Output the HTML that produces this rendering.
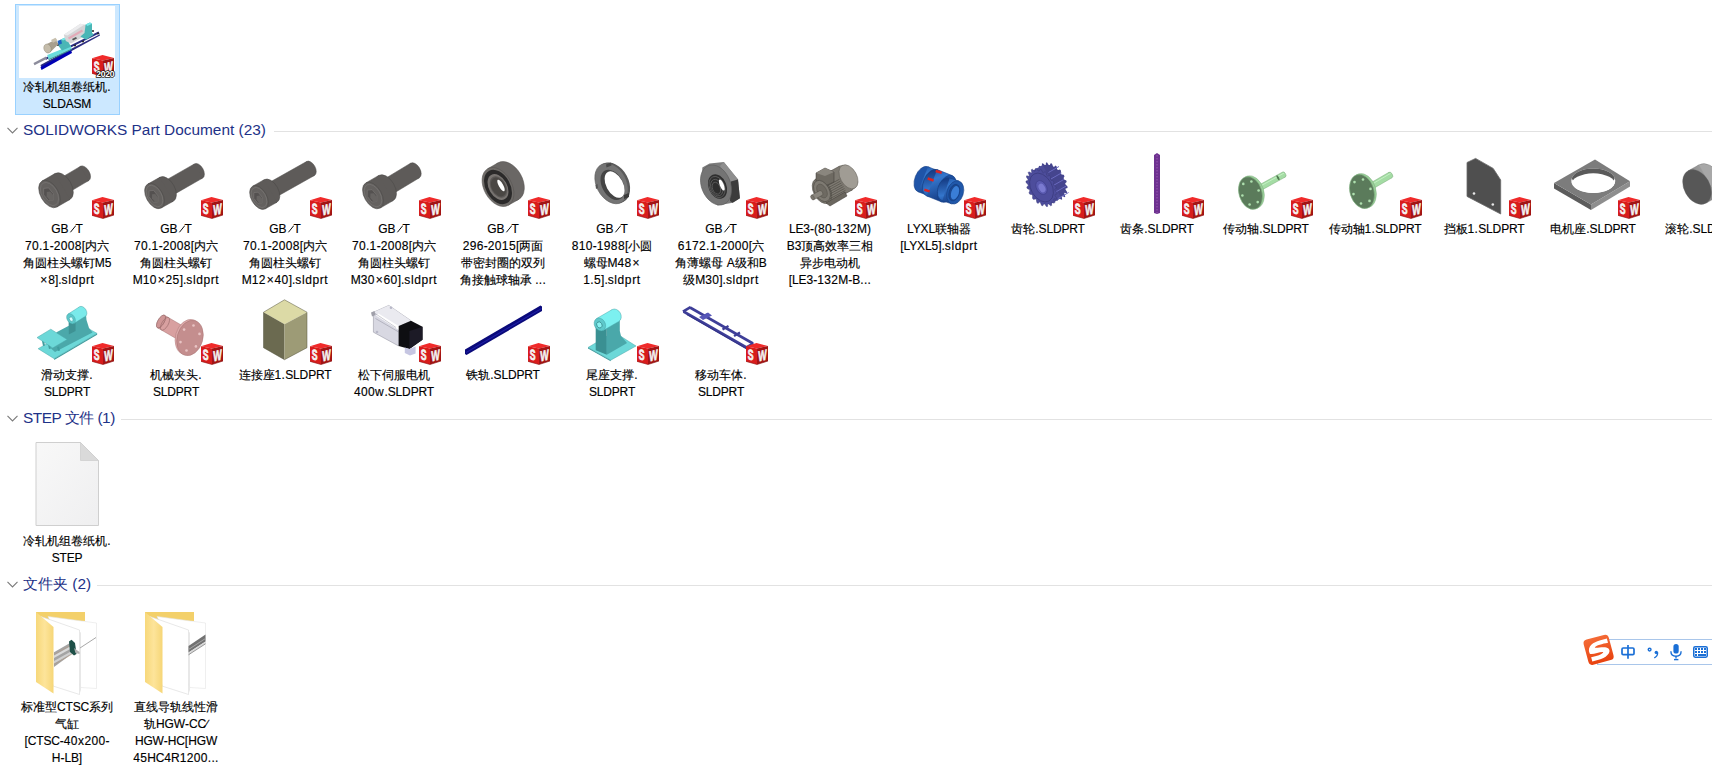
<!DOCTYPE html>
<html><head><meta charset="utf-8"><style>
html,body{margin:0;padding:0;background:#fff;width:1712px;height:783px;overflow:hidden;position:relative}
body{font-family:"Liberation Sans",sans-serif;}
.tx{position:absolute;width:120px;text-align:center;font-size:12px;line-height:17px;color:#000;white-space:nowrap;-webkit-text-stroke:0.15px #000}
.ln{height:17px}
.slsvg{vertical-align:baseline;display:inline-block}
.lc{letter-spacing:0.6px}
.uc{letter-spacing:-0.15px}
.dg{letter-spacing:0.35px}
.x{margin:0 0.9px}
.hd{position:absolute;left:23px;font-size:15.4px;line-height:17px;color:#1e3287;white-space:nowrap}
.hl{position:absolute;right:0;height:1px;background:#e2e2e2}
.chev{position:absolute;left:7px}
.sel{position:absolute;left:15px;top:4px;width:103px;height:109px;background:#cce8ff;border:1px solid #99d1ff}
.thumbbg{position:absolute;left:19px;top:6px;width:96px;height:72px;background:#fff}
.ov{position:absolute;left:0;top:0}
</style></head><body>
<div class="sel"></div><div class="thumbbg"></div><div class="tx" style="left:7px;top:79px"><div class="ln">冷轧机组卷纸机.</div><div class="ln"><span class=uc>SLDASM</span></div></div><div class="hd" style="top:121px;letter-spacing:0px">SOLIDWORKS Part Document (23)</div><div class="hl" style="top:131px;left:274px"></div><svg class="chev" style="top:127px" width="12" height="8" viewBox="0 0 12 8"><path d="M0.5 0.8 L5.5 6 L10.5 0.8" fill="none" stroke="#7a7a7a" stroke-width="1.1"/></svg><div class="tx" style="left:7px;top:221px"><div class="ln">GB<svg class=slsvg width="7" height="9" viewBox="0 0 7 9"><line x1="1.4" y1="8.3" x2="6.9" y2="1.5" stroke="#000" stroke-width="0.95"/></svg>T</div><div class="ln"><span class=dg>70.1</span>-<span class=dg>2008</span>[内六</div><div class="ln">角圆柱头螺钉M5</div><div class="ln"><span class=x>×</span>8].<span class=lc>sldprt</span></div></div><div class="tx" style="left:116px;top:221px"><div class="ln">GB<svg class=slsvg width="7" height="9" viewBox="0 0 7 9"><line x1="1.4" y1="8.3" x2="6.9" y2="1.5" stroke="#000" stroke-width="0.95"/></svg>T</div><div class="ln"><span class=dg>70.1</span>-<span class=dg>2008</span>[内六</div><div class="ln">角圆柱头螺钉</div><div class="ln">M<span class=dg>10</span><span class=x>×</span><span class=dg>25</span>].<span class=lc>sldprt</span></div></div><div class="tx" style="left:225px;top:221px"><div class="ln">GB<svg class=slsvg width="7" height="9" viewBox="0 0 7 9"><line x1="1.4" y1="8.3" x2="6.9" y2="1.5" stroke="#000" stroke-width="0.95"/></svg>T</div><div class="ln"><span class=dg>70.1</span>-<span class=dg>2008</span>[内六</div><div class="ln">角圆柱头螺钉</div><div class="ln">M<span class=dg>12</span><span class=x>×</span><span class=dg>40</span>].<span class=lc>sldprt</span></div></div><div class="tx" style="left:334px;top:221px"><div class="ln">GB<svg class=slsvg width="7" height="9" viewBox="0 0 7 9"><line x1="1.4" y1="8.3" x2="6.9" y2="1.5" stroke="#000" stroke-width="0.95"/></svg>T</div><div class="ln"><span class=dg>70.1</span>-<span class=dg>2008</span>[内六</div><div class="ln">角圆柱头螺钉</div><div class="ln">M<span class=dg>30</span><span class=x>×</span><span class=dg>60</span>].<span class=lc>sldprt</span></div></div><div class="tx" style="left:443px;top:221px"><div class="ln">GB<svg class=slsvg width="7" height="9" viewBox="0 0 7 9"><line x1="1.4" y1="8.3" x2="6.9" y2="1.5" stroke="#000" stroke-width="0.95"/></svg>T</div><div class="ln"><span class=dg>296</span>-<span class=dg>2015</span>[两面</div><div class="ln">带密封圈的双列</div><div class="ln">角接触球轴承 <span class=dg>...</span></div></div><div class="tx" style="left:552px;top:221px"><div class="ln">GB<svg class=slsvg width="7" height="9" viewBox="0 0 7 9"><line x1="1.4" y1="8.3" x2="6.9" y2="1.5" stroke="#000" stroke-width="0.95"/></svg>T</div><div class="ln"><span class=dg>810</span>-<span class=dg>1988</span>[小圆</div><div class="ln">螺母M<span class=dg>48</span><span class=x>×</span></div><div class="ln"><span class=dg>1.5</span>].<span class=lc>sldprt</span></div></div><div class="tx" style="left:661px;top:221px"><div class="ln">GB<svg class=slsvg width="7" height="9" viewBox="0 0 7 9"><line x1="1.4" y1="8.3" x2="6.9" y2="1.5" stroke="#000" stroke-width="0.95"/></svg>T</div><div class="ln"><span class=dg>6172.1</span>-<span class=dg>2000</span>[六</div><div class="ln">角薄螺母 A级和B</div><div class="ln">级M<span class=dg>30</span>].<span class=lc>sldprt</span></div></div><div class="tx" style="left:770px;top:221px"><div class="ln"><span class=uc>LE</span>3-(<span class=dg>80</span>-<span class=dg>132</span>M)</div><div class="ln">B3顶高效率三相</div><div class="ln">异步电动机</div><div class="ln">[<span class=uc>LE</span>3-<span class=dg>132</span>M-B<span class=dg>...</span></div></div><div class="tx" style="left:879px;top:221px"><div class="ln"><span class=uc>LYXL</span>联轴器</div><div class="ln">[<span class=uc>LYXL</span>5].<span class=lc>sldprt</span></div></div><div class="tx" style="left:988px;top:221px"><div class="ln">齿轮.<span class=uc>SLDPRT</span></div></div><div class="tx" style="left:1097px;top:221px"><div class="ln">齿条.<span class=uc>SLDPRT</span></div></div><div class="tx" style="left:1206px;top:221px"><div class="ln">传动轴.<span class=uc>SLDPRT</span></div></div><div class="tx" style="left:1315px;top:221px"><div class="ln">传动轴<span class=dg>1.</span><span class=uc>SLDPRT</span></div></div><div class="tx" style="left:1424px;top:221px"><div class="ln">挡板<span class=dg>1.</span><span class=uc>SLDPRT</span></div></div><div class="tx" style="left:1533px;top:221px"><div class="ln">电机座.<span class=uc>SLDPRT</span></div></div><div class="tx" style="left:1642px;top:221px"><div class="ln">滚轮.<span class=uc>SLDPRT</span></div></div><div class="tx" style="left:7px;top:367px"><div class="ln">滑动支撑.</div><div class="ln"><span class=uc>SLDPRT</span></div></div><div class="tx" style="left:116px;top:367px"><div class="ln">机械夹头.</div><div class="ln"><span class=uc>SLDPRT</span></div></div><div class="tx" style="left:225px;top:367px"><div class="ln">连接座<span class=dg>1.</span><span class=uc>SLDPRT</span></div></div><div class="tx" style="left:334px;top:367px"><div class="ln">松下伺服电机</div><div class="ln"><span class=dg>400</span><span class=lc>w</span>.<span class=uc>SLDPRT</span></div></div><div class="tx" style="left:443px;top:367px"><div class="ln">铁轨.<span class=uc>SLDPRT</span></div></div><div class="tx" style="left:552px;top:367px"><div class="ln">尾座支撑.</div><div class="ln"><span class=uc>SLDPRT</span></div></div><div class="tx" style="left:661px;top:367px"><div class="ln">移动车体.</div><div class="ln"><span class=uc>SLDPRT</span></div></div><div class="hd" style="top:409px;letter-spacing:-0.5px">STEP 文件 (1)</div><div class="hl" style="top:419px;left:121px"></div><svg class="chev" style="top:415px" width="12" height="8" viewBox="0 0 12 8"><path d="M0.5 0.8 L5.5 6 L10.5 0.8" fill="none" stroke="#7a7a7a" stroke-width="1.1"/></svg><div class="tx" style="left:7px;top:533px"><div class="ln">冷轧机组卷纸机.</div><div class="ln"><span class=uc>STEP</span></div></div><div class="hd" style="top:575px;letter-spacing:0px">文件夹 (2)</div><div class="hl" style="top:585px;left:97px"></div><svg class="chev" style="top:581px" width="12" height="8" viewBox="0 0 12 8"><path d="M0.5 0.8 L5.5 6 L10.5 0.8" fill="none" stroke="#7a7a7a" stroke-width="1.1"/></svg><div class="tx" style="left:7px;top:699px"><div class="ln">标准型<span class=uc>CTSC</span>系列</div><div class="ln">气缸</div><div class="ln">[<span class=uc>CTSC</span>-<span class=dg>40</span><span class=lc>x</span><span class=dg>200</span>-</div><div class="ln">H-<span class=uc>LB</span>]</div></div><div class="tx" style="left:116px;top:699px"><div class="ln">直线导轨线性滑</div><div class="ln">轨<span class=uc>HGW</span>-<span class=uc>CC</span>∕</div><div class="ln"><span class=uc>HGW</span>-<span class=uc>HC</span>[<span class=uc>HGW</span></div><div class="ln"><span class=dg>45</span><span class=uc>HC</span>4R<span class=dg>1200...</span></div></div>
<svg class="ov" width="1712" height="783" viewBox="0 0 1712 783"><defs>
<g id="sw">
 <polygon points="0,3.2 10.5,0 22,2.9 11,5.4" fill="#f02a2a"/>
 <polygon points="0,3.2 11,5.4 11,21.5 0,18.4" fill="#d81c1c"/>
 <polygon points="11,5.4 22,2.9 22,18 11,21.5" fill="#a31414"/>
 <polyline points="0,18.4 11,21.5 22,18" fill="none" stroke="#8a1010" stroke-width="0.6"/>
 <g transform="translate(4.7,16.9) skewY(11) scale(0.6,1)"><text x="0" y="0" font-family="Liberation Sans" font-weight="bold" font-size="14.5" fill="#f4f4f4" stroke="#f4f4f4" stroke-width="0.7" text-anchor="middle">S</text></g>
 <g transform="translate(16.5,17.6) skewY(-13) scale(0.62,1)"><text x="0" y="0" font-family="Liberation Sans" font-weight="bold" font-size="14.5" fill="#f4f4f4" stroke="#f4f4f4" stroke-width="0.6" text-anchor="middle">W</text></g>
</g>
</defs>
<polygon points="40.5,65 99,33 100,35.5 41.5,67.5" fill="#2c2c80" /><polygon points="45,58 98.5,31.5 99.5,33.5 46,60" fill="#2c2c80" /><polygon points="46,60 99,33.5 99.5,34.6 46.5,61.3" fill="#ffffff" /><polygon points="33.5,63 46,56.5 47,58.8 34.5,65.3" fill="#8c8c9c" /><polygon points="40.5,67 71,50 72,53 41.5,70" fill="#0000b4" /><circle cx="58" cy="45" r="1" fill="#222"/><circle cx="68" cy="46" r="1" fill="#222"/><circle cx="75" cy="45.5" r="1" fill="#222"/><circle cx="83" cy="41.5" r="1" fill="#222"/><circle cx="93" cy="31" r="1" fill="#222"/><circle cx="98" cy="33.5" r="1" fill="#222"/><polygon points="47.2,55.1 70.9,45.5 71.5,48.7 48.5,59" fill="#6adcdc" /><polygon points="48.5,59 71.5,48.7 71.5,50 48.5,60.3" fill="#3a9c9c" /><polygon points="61.3,39.2 65.8,37.2 67,38.5 70.9,46.8 62,50.5 58.5,46" fill="#4ab6b6" /><polygon points="61.3,39.2 65.8,37.2 67.5,38.6 63,40.6" fill="#78e8e8" /><polygon points="47,44 55.5,39.5 58.5,44 50,52.5" fill="#a89f8e" /><polygon points="51,40 55.5,37.8 57.5,40.5 53,42.7" fill="#c8c0ae" /><ellipse cx="47.5" cy="48.5" rx="3.6" ry="4.6" transform="rotate(-20 47.5 48.5)" fill="#c4bcaa" stroke="#8a8272" stroke-width="0.4" /><polygon points="57.5,41 61,39.5 62,43.5 58.5,45" fill="#1f62c4" /><polygon points="63.8,34.7 80.4,23.8 86.2,25.1 84.3,36.6 70.9,43.6 65.8,41" fill="#d4d4d6" /><polygon points="63.8,34.7 80.4,23.8 84.5,24.6 67.5,35.5" fill="#ececee" /><polygon points="68,37.5 82,29.5 83,31.5 69,39.5" fill="#e2aab8" /><polygon points="72,39 76,37 77,38.5 73,40.5" fill="#555" /><polygon points="85.6,24.5 90,22.5 92,23.8 92,32.8 93.9,34.7 86.2,39.8 80.4,36.6 84.5,33" fill="#4ab6b6" /><polygon points="85.6,24.5 90,22.5 92,23.8 87.5,26" fill="#78e8e8" />
<use href="#sw" x="92" y="55"/>
<text x="105.3" y="77" text-anchor="middle" font-family="Liberation Sans" font-weight="bold" font-size="8.6" fill="#ffffff" stroke="#111111" stroke-width="1.5" paint-order="stroke" letter-spacing="-0.2">2020</text>
<ellipse cx="84.5" cy="173.5" rx="5" ry="8.3" transform="rotate(-30.6 84.5 173.5)" fill="#5e5b59" stroke="#4b4947" stroke-width="0.5" /><polygon points="66.7,193.6 88.7,180.6 80.3,166.4 58.3,179.4" fill="#5e5b59" /><line x1="66.7" y1="193.6" x2="88.7" y2="180.6" stroke="#4b4947" stroke-width="0.5" /><line x1="58.3" y1="179.4" x2="80.3" y2="166.4" stroke="#4b4947" stroke-width="0.5" /><ellipse cx="62.5" cy="186.5" rx="5" ry="8.3" transform="rotate(-30.6 62.5 186.5)" fill="#5e5b59" stroke="#4b4947" stroke-width="0.5" /><ellipse cx="62.5" cy="186.5" rx="9" ry="15" transform="rotate(-30 62.5 186.5)" fill="#5e5b59" stroke="#4b4947" stroke-width="0.5" /><polygon points="57,207 70,199.5 55,173.5 42,181" fill="#5e5b59" /><line x1="57" y1="207" x2="70" y2="199.5" stroke="#4b4947" stroke-width="0.5" /><line x1="42" y1="181" x2="55" y2="173.5" stroke="#4b4947" stroke-width="0.5" /><ellipse cx="49.5" cy="194" rx="9" ry="15" transform="rotate(-30 49.5 194)" fill="#64615f" stroke="#4b4947" stroke-width="0.5" /><ellipse cx="49.5" cy="194" rx="7.6" ry="12.6" transform="rotate(-30 49.5 194)" fill="none" stroke="#777472" stroke-width="0.7" /><polygon points="53.4,193.8 53.3,200.2 48.4,200.7 43.6,194.8 43.7,188.4 48.6,187.9" fill="#545150" stroke="#7c7977" stroke-width="0.6" stroke-linejoin="round" /><polygon points="53.5,195.6 53.4,200.1 50,200.5 46.7,196.4 46.8,191.9 50.2,191.5" fill="#676462" /><ellipse cx="198.5" cy="171" rx="4.9" ry="8.2" transform="rotate(-29.8 198.5 171)" fill="#5e5b59" stroke="#4b4947" stroke-width="0.5" /><polygon points="170.6,196.4 202.6,178.1 194.4,163.9 162.4,182.2" fill="#5e5b59" /><line x1="170.6" y1="196.4" x2="202.6" y2="178.1" stroke="#4b4947" stroke-width="0.5" /><line x1="162.4" y1="182.2" x2="194.4" y2="163.9" stroke="#4b4947" stroke-width="0.5" /><ellipse cx="166.5" cy="189.3" rx="4.9" ry="8.2" transform="rotate(-29.8 166.5 189.3)" fill="#5e5b59" stroke="#4b4947" stroke-width="0.5" /><ellipse cx="166.5" cy="189.3" rx="8.3" ry="13.8" transform="rotate(-29.2 166.5 189.3)" fill="#5e5b59" stroke="#4b4947" stroke-width="0.5" /><polygon points="161.2,208 173.2,201.3 159.8,177.3 147.8,184" fill="#5e5b59" /><line x1="161.2" y1="208" x2="173.2" y2="201.3" stroke="#4b4947" stroke-width="0.5" /><line x1="147.8" y1="184" x2="159.8" y2="177.3" stroke="#4b4947" stroke-width="0.5" /><ellipse cx="154.5" cy="196" rx="8.3" ry="13.8" transform="rotate(-29.2 154.5 196)" fill="#64615f" stroke="#4b4947" stroke-width="0.5" /><ellipse cx="154.5" cy="196" rx="7" ry="11.6" transform="rotate(-29.2 154.5 196)" fill="none" stroke="#777472" stroke-width="0.7" /><polygon points="158,195.9 157.9,201.8 153.3,202.2 149,196.7 149.1,190.8 153.7,190.4" fill="#545150" stroke="#7c7977" stroke-width="0.6" stroke-linejoin="round" /><polygon points="158.2,197.7 158.1,201.8 155,202.1 152,198.3 152.1,194.2 155.2,193.9" fill="#676462" /><ellipse cx="310.5" cy="168.5" rx="4.8" ry="8" transform="rotate(-29.4 310.5 168.5)" fill="#5e5b59" stroke="#4b4947" stroke-width="0.5" /><polygon points="274.4,198 314.4,175.5 306.6,161.5 266.6,184" fill="#5e5b59" /><line x1="274.4" y1="198" x2="314.4" y2="175.5" stroke="#4b4947" stroke-width="0.5" /><line x1="266.6" y1="184" x2="306.6" y2="161.5" stroke="#4b4947" stroke-width="0.5" /><ellipse cx="270.5" cy="191" rx="4.8" ry="8" transform="rotate(-29.4 270.5 191)" fill="#5e5b59" stroke="#4b4947" stroke-width="0.5" /><ellipse cx="270.5" cy="191" rx="7.8" ry="13" transform="rotate(-29.5 270.5 191)" fill="#5e5b59" stroke="#4b4947" stroke-width="0.5" /><polygon points="265.4,208.8 276.9,202.3 264.1,179.7 252.6,186.2" fill="#5e5b59" /><line x1="265.4" y1="208.8" x2="276.9" y2="202.3" stroke="#4b4947" stroke-width="0.5" /><line x1="252.6" y1="186.2" x2="264.1" y2="179.7" stroke="#4b4947" stroke-width="0.5" /><ellipse cx="259" cy="197.5" rx="7.8" ry="13" transform="rotate(-29.5 259 197.5)" fill="#64615f" stroke="#4b4947" stroke-width="0.5" /><ellipse cx="259" cy="197.5" rx="6.6" ry="10.9" transform="rotate(-29.5 259 197.5)" fill="none" stroke="#777472" stroke-width="0.7" /><polygon points="262.3,197.4 262.1,203 257.9,203.4 253.7,198.2 253.9,192.6 258.1,192.2" fill="#545150" stroke="#7c7977" stroke-width="0.6" stroke-linejoin="round" /><polygon points="262.6,199.2 262.5,203.1 259.5,203.4 256.6,199.8 256.7,195.9 259.7,195.6" fill="#676462" /><ellipse cx="415" cy="170.5" rx="5.1" ry="8.5" transform="rotate(-31.1 415 170.5)" fill="#5e5b59" stroke="#4b4947" stroke-width="0.5" /><polygon points="390.4,195.3 419.4,177.8 410.6,163.2 381.6,180.7" fill="#5e5b59" /><line x1="390.4" y1="195.3" x2="419.4" y2="177.8" stroke="#4b4947" stroke-width="0.5" /><line x1="381.6" y1="180.7" x2="410.6" y2="163.2" stroke="#4b4947" stroke-width="0.5" /><ellipse cx="386" cy="188" rx="5.1" ry="8.5" transform="rotate(-31.1 386 188)" fill="#5e5b59" stroke="#4b4947" stroke-width="0.5" /><ellipse cx="386" cy="188" rx="8.7" ry="14.5" transform="rotate(-30 386 188)" fill="#5e5b59" stroke="#4b4947" stroke-width="0.5" /><polygon points="380.2,208.1 393.2,200.6 378.8,175.4 365.8,182.9" fill="#5e5b59" /><line x1="380.2" y1="208.1" x2="393.2" y2="200.6" stroke="#4b4947" stroke-width="0.5" /><line x1="365.8" y1="182.9" x2="378.8" y2="175.4" stroke="#4b4947" stroke-width="0.5" /><ellipse cx="373" cy="195.5" rx="8.7" ry="14.5" transform="rotate(-30 373 195.5)" fill="#64615f" stroke="#4b4947" stroke-width="0.5" /><ellipse cx="373" cy="195.5" rx="7.3" ry="12.2" transform="rotate(-30 373 195.5)" fill="none" stroke="#777472" stroke-width="0.7" /><polygon points="376.8,195.3 376.7,201.5 371.9,202 367.2,196.3 367.3,190.1 372.1,189.6" fill="#545150" stroke="#7c7977" stroke-width="0.6" stroke-linejoin="round" /><polygon points="376.9,197.2 376.8,201.5 373.5,201.8 370.3,197.8 370.4,193.5 373.7,193.2" fill="#676462" /><ellipse cx="508.4" cy="181.1" rx="13.9" ry="21" transform="rotate(-29.4 508.4 181.1)" fill="#6a6765" stroke="#55524f" stroke-width="0.5" /><polygon points="508.3,205.3 518.7,199.4 498.1,162.8 487.7,168.7" fill="#6a6765" /><line x1="508.3" y1="205.3" x2="518.7" y2="199.4" stroke="#55524f" stroke-width="0.5" /><line x1="487.7" y1="168.7" x2="498.1" y2="162.8" stroke="#55524f" stroke-width="0.5" /><ellipse cx="498" cy="187" rx="13.9" ry="21" transform="rotate(-29.4 498 187)" fill="#6e6b68" stroke="#55524f" stroke-width="0.5" /><ellipse cx="498" cy="187" rx="12.2" ry="18.5" transform="rotate(-29.4 498 187)" fill="#2b2a2a" /><ellipse cx="498" cy="187" rx="9.1" ry="13.9" transform="rotate(-29.4 498 187)" fill="#777370" /><ellipse cx="498.5" cy="187" rx="7.6" ry="11.6" transform="rotate(-29.4 498.5 187)" fill="#5a5755" /><ellipse cx="498.5" cy="187" rx="6.7" ry="10.1" transform="rotate(-29.4 498.5 187)" fill="#4a4744" /><ellipse cx="501" cy="185.5" rx="2.2" ry="6.5" transform="rotate(-29.4 501 185.5)" fill="#ffffff" /><ellipse cx="613.5" cy="182.8" rx="15" ry="21.5" transform="rotate(-28 613.5 182.8)" fill="#5a5a5a" /><ellipse cx="611.5" cy="183.5" rx="15" ry="21.5" transform="rotate(-28 611.5 183.5)" fill="#747474" stroke="#5a5a5a" stroke-width="0.6" /><ellipse cx="612.5" cy="184.8" rx="10.5" ry="16.2" transform="rotate(-28 612.5 184.8)" fill="#444444" /><ellipse cx="614.6" cy="184.6" rx="8.4" ry="14.3" transform="rotate(-28 614.6 184.6)" fill="#ffffff" /><polygon points="606,164.5 611,162.5 611.5,165.5 606.5,167.5" fill="#4a4a4a" /><polygon points="624,195 629,193 629,197 624,199" fill="#3a3a3a" /><polygon points="595.5,185 597.5,184 598,188 596,189" fill="#555" /><polygon points="702.3,167.4 709.5,163.4 723.8,162 738,179.5 739.9,198.3 732.7,202.7 717.5,205.4 701.9,185.7" fill="#7c7c7c" /><polygon points="723.8,162 738,179.5 731,182 720,166" fill="#8e8e8e" /><polygon points="731,181.5 738,179.5 739.9,198.3 732.7,202.7 730,201" fill="#3c3c3c" /><ellipse cx="716" cy="185" rx="14.5" ry="20.8" transform="rotate(-22 716 185)" fill="#747474" stroke="#5e5e5e" stroke-width="0.6" /><ellipse cx="717.5" cy="186.5" rx="9" ry="12.8" transform="rotate(-22 717.5 186.5)" fill="#2e2e2e" /><ellipse cx="717" cy="187" rx="7.5" ry="11" transform="rotate(-22 717 187)" fill="none" stroke="#5e5e5e" stroke-width="0.8" /><ellipse cx="716.7" cy="187.6" rx="5.7" ry="8.6" transform="rotate(-22 716.7 187.6)" fill="none" stroke="#5e5e5e" stroke-width="0.8" /><ellipse cx="716.4" cy="188.2" rx="3.9" ry="6.2" transform="rotate(-22 716.4 188.2)" fill="none" stroke="#5e5e5e" stroke-width="0.8" /><ellipse cx="721.8" cy="185" rx="2" ry="6" transform="rotate(-22 721.8 185)" fill="#ffffff" /><ellipse cx="846" cy="178" rx="8.4" ry="13.5" transform="rotate(-28.4 846 178)" fill="#9a968e" stroke="#4a4740" stroke-width="0.5" /><polygon points="828.4,202.9 852.4,189.9 839.6,166.1 815.6,179.1" fill="#7e7a72" /><line x1="828.4" y1="202.9" x2="852.4" y2="189.9" stroke="#4a4740" stroke-width="0.5" /><line x1="815.6" y1="179.1" x2="839.6" y2="166.1" stroke="#4a4740" stroke-width="0.5" /><ellipse cx="822" cy="191" rx="8.4" ry="13.5" transform="rotate(-28.4 822 191)" fill="#7a766e" stroke="#4a4740" stroke-width="0.5" /><ellipse cx="848.5" cy="176.8" rx="8.2" ry="13" transform="rotate(-29 848.5 176.8)" fill="#a09c94" stroke="#5e5b54" stroke-width="0.5" /><line x1="823.7" y1="187.8" x2="839.5" y2="179.2" stroke="#4a4740" stroke-width="0.6" /><line x1="824.7" y1="189.7" x2="840.5" y2="181.1" stroke="#4a4740" stroke-width="0.6" /><line x1="825.7" y1="191.5" x2="841.5" y2="182.9" stroke="#4a4740" stroke-width="0.6" /><line x1="826.7" y1="193.4" x2="842.5" y2="184.8" stroke="#4a4740" stroke-width="0.6" /><line x1="827.7" y1="195.2" x2="843.5" y2="186.6" stroke="#4a4740" stroke-width="0.6" /><line x1="828.7" y1="197" x2="844.5" y2="188.5" stroke="#4a4740" stroke-width="0.6" /><line x1="829.7" y1="198.9" x2="845.5" y2="190.3" stroke="#4a4740" stroke-width="0.6" /><polygon points="845,192 847,196 830,206 826,203" fill="#6a665e" stroke="#3e3b36" stroke-width="0.5" stroke-linejoin="round" /><polygon points="816,173 825,168 834,172 834,182 825,186 816,181" fill="#6e6a62" stroke="#3e3b36" stroke-width="0.5" stroke-linejoin="round" /><polygon points="816,173 825,168 834,172 825,176" fill="#8a867e" /><ellipse cx="822" cy="191" rx="7.3" ry="11.5" transform="rotate(-29 822 191)" fill="#7e7a72" stroke="#4a4740" stroke-width="0.6" /><ellipse cx="822" cy="191" rx="4.5" ry="7.5" transform="rotate(-29 822 191)" fill="#6e6a62" stroke="#55524b" stroke-width="0.5" /><ellipse cx="821" cy="193" rx="1.6" ry="2.6" transform="rotate(-27.9 821 193)" fill="#8a867e" stroke="#4a4740" stroke-width="0.4" /><polygon points="813.7,199.8 822.2,195.3 819.8,190.7 811.3,195.2" fill="#8a867e" /><line x1="813.7" y1="199.8" x2="822.2" y2="195.3" stroke="#4a4740" stroke-width="0.4" /><line x1="811.3" y1="195.2" x2="819.8" y2="190.7" stroke="#4a4740" stroke-width="0.4" /><ellipse cx="812.5" cy="197.5" rx="1.6" ry="2.6" transform="rotate(-27.9 812.5 197.5)" fill="#7a766e" stroke="#4a4740" stroke-width="0.4" /><linearGradient id="cg" x1="0" y1="0" x2="0.3" y2="1"><stop offset="0" stop-color="#1a4c9c"/><stop offset="0.35" stop-color="#3476cc"/><stop offset="1" stop-color="#173f88"/></linearGradient><ellipse cx="923" cy="179.2" rx="8.1" ry="13.5" transform="rotate(-158.2 923 179.2)" fill="#1f54a8" stroke="#143c80" stroke-width="0.5" /><polygon points="937,170.3 928,166.7 918,191.7 927,195.3" fill="url(#cg)" /><line x1="937" y1="170.3" x2="928" y2="166.7" stroke="#143c80" stroke-width="0.5" /><line x1="927" y1="195.3" x2="918" y2="191.7" stroke="#143c80" stroke-width="0.5" /><ellipse cx="932" cy="182.8" rx="8.1" ry="13.5" transform="rotate(-158.2 932 182.8)" fill="#1f54a8" stroke="#143c80" stroke-width="0.5" /><ellipse cx="932" cy="182.8" rx="8.5" ry="14.2" transform="rotate(-158.2 932 182.8)" fill="url(#cg)" stroke="#143c80" stroke-width="0.5" /><polygon points="952.3,175.6 937.3,169.6 926.7,196 941.7,202" fill="url(#cg)" /><line x1="952.3" y1="175.6" x2="937.3" y2="169.6" stroke="#143c80" stroke-width="0.5" /><line x1="941.7" y1="202" x2="926.7" y2="196" stroke="#143c80" stroke-width="0.5" /><ellipse cx="947" cy="188.8" rx="8.5" ry="14.2" transform="rotate(-158.2 947 188.8)" fill="#1d50a0" stroke="#143c80" stroke-width="0.5" /><ellipse cx="946" cy="189.4" rx="8.2" ry="12" transform="rotate(-161.9 946 189.4)" fill="url(#cg)" stroke="#143c80" stroke-width="0.5" /><polygon points="958.9,181 949.7,178 942.3,200.8 951.5,203.8" fill="url(#cg)" /><line x1="958.9" y1="181" x2="949.7" y2="178" stroke="#143c80" stroke-width="0.5" /><line x1="951.5" y1="203.8" x2="942.3" y2="200.8" stroke="#143c80" stroke-width="0.5" /><ellipse cx="955.2" cy="192.4" rx="8.2" ry="12" transform="rotate(-161.9 955.2 192.4)" fill="#2058aa" stroke="#143c80" stroke-width="0.5" /><ellipse cx="954.3" cy="192.6" rx="5.2" ry="8.5" transform="rotate(18 954.3 192.6)" fill="#1a4890" stroke="#123a80" stroke-width="0.5" /><ellipse cx="955" cy="192.8" rx="3.8" ry="7" transform="rotate(18 955 192.8)" fill="#3a7ed6" /><polygon points="936,169.8 942,171.6 941.4,174 935.4,172.2" fill="#d82424" /><polygon points="928,177.3 934,179.3 933.4,181.8 927.4,179.8" fill="#d82424" /><polygon points="924.6,188.6 930,190.3 929.4,192.6 924,190.9" fill="#d82424" /><polygon points="1063.7,174.8 1064.5,176.2 1063.6,178.1 1064.1,179.4 1066.3,180.6 1066.7,182.1 1065.2,183.3 1065.5,184.6 1067.5,186.5 1067.5,188 1065.6,188.4 1065.5,189.6 1067.1,192 1066.8,193.2 1064.6,192.7 1064.2,193.7 1065.3,196.4 1064.6,197.2 1062.4,196 1061.7,196.6 1062.2,199.3 1061.2,199.8 1059.2,197.9 1058.3,198.1 1058,200.5 1056.9,200.5 1055.3,198.1 1054.2,197.9 1053.3,199.8 1052.1,199.4 1051,196.7 1050,196.1 1048.5,197.4 1047.3,196.5 1046.9,193.8 1045.9,192.9 1044,193.4 1043,192.2 1043.2,189.8 1042.4,188.6 1040.3,188.2 1039.5,186.8 1040.4,184.9 1039.9,183.6 1037.7,182.4 1037.3,180.9 1038.8,179.7 1038.5,178.4 1036.5,176.5 1036.5,175 1038.4,174.6 1038.5,173.4 1036.9,171 1037.2,169.8 1039.4,170.3 1039.8,169.3 1038.7,166.6 1039.4,165.8 1041.6,167 1042.3,166.4 1041.8,163.7 1042.8,163.2 1044.8,165.1 1045.7,164.9 1046,162.5 1047.1,162.5 1048.7,164.9 1049.8,165.1 1050.7,163.2 1051.9,163.6 1053,166.3 1054,166.9 1055.5,165.6 1056.7,166.5 1057.1,169.2 1058.1,170.1 1060,169.6 1061,170.8 1060.8,173.2 1061.6,174.4" fill="#45458e" /><polygon points="1050.9,204 1061.4,198 1042.6,165 1032.1,171" fill="#4c4c98" /><line x1="1048.5" y1="172.5" x2="1059" y2="166.5" stroke="#6a6ac0" stroke-width="1.0" /><line x1="1050.9" y1="179" x2="1061.4" y2="173" stroke="#6a6ac0" stroke-width="1.0" /><line x1="1053.3" y1="185.5" x2="1063.8" y2="179.5" stroke="#6a6ac0" stroke-width="1.0" /><line x1="1055.7" y1="192" x2="1066.2" y2="186" stroke="#6a6ac0" stroke-width="1.0" /><line x1="1058.1" y1="198.5" x2="1068.6" y2="192.5" stroke="#6a6ac0" stroke-width="1.0" /><polygon points="1053.2,180.8 1054,182.2 1053.1,184.1 1053.6,185.4 1055.8,186.6 1056.2,188.1 1054.7,189.3 1055,190.6 1057,192.5 1057,194 1055.1,194.4 1055,195.6 1056.6,198 1056.3,199.2 1054.1,198.7 1053.7,199.7 1054.8,202.4 1054.1,203.2 1051.9,202 1051.2,202.6 1051.7,205.3 1050.7,205.8 1048.7,203.9 1047.8,204.1 1047.5,206.5 1046.4,206.5 1044.8,204.1 1043.7,203.9 1042.8,205.8 1041.6,205.4 1040.5,202.7 1039.5,202.1 1038,203.4 1036.8,202.5 1036.4,199.8 1035.4,198.9 1033.5,199.4 1032.5,198.2 1032.7,195.8 1031.9,194.6 1029.8,194.2 1029,192.8 1029.9,190.9 1029.4,189.6 1027.2,188.4 1026.8,186.9 1028.3,185.7 1028,184.4 1026,182.5 1026,181 1027.9,180.6 1028,179.4 1026.4,177 1026.7,175.8 1028.9,176.3 1029.3,175.3 1028.2,172.6 1028.9,171.8 1031.1,173 1031.8,172.4 1031.3,169.7 1032.3,169.2 1034.3,171.1 1035.2,170.9 1035.5,168.5 1036.6,168.5 1038.2,170.9 1039.3,171.1 1040.2,169.2 1041.4,169.6 1042.5,172.3 1043.5,172.9 1045,171.6 1046.2,172.5 1046.6,175.2 1047.6,176.1 1049.5,175.6 1050.5,176.8 1050.3,179.2 1051.1,180.4" fill="#4d4d9c" stroke="#3a3a7a" stroke-width="0.5" stroke-linejoin="round" /><ellipse cx="1041.5" cy="187.5" rx="10.5" ry="15.5" transform="rotate(-29.7 1041.5 187.5)" fill="none" stroke="#3b3b80" stroke-width="0.8" /><ellipse cx="1041.5" cy="187.5" rx="5" ry="7.5" transform="rotate(-29.7 1041.5 187.5)" fill="#5a5ab0" stroke="#3e3e8a" stroke-width="0.6" /><ellipse cx="1042" cy="188" rx="3" ry="4.6" transform="rotate(-29.7 1042 188)" fill="#7a7ad0" /><polygon points="1154,155 1157,153 1160,155 1160,213 1157,214 1154,213" fill="#6e3290" /><line x1="1157" y1="155" x2="1157" y2="213" stroke="#8c4ea8" stroke-width="1.4" stroke-dasharray="1.5 1.5"/><ellipse cx="1284" cy="174.5" rx="1.7" ry="2.8" transform="rotate(-28.9 1284 174.5)" fill="#a4dca4" stroke="#6f9f6f" stroke-width="0.4" /><polygon points="1251.9,195.5 1285.4,177 1282.6,172 1249.1,190.5" fill="#a4dca4" /><line x1="1251.9" y1="195.5" x2="1285.4" y2="177" stroke="#6f9f6f" stroke-width="0.4" /><line x1="1249.1" y1="190.5" x2="1282.6" y2="172" stroke="#6f9f6f" stroke-width="0.4" /><ellipse cx="1250.5" cy="193" rx="1.7" ry="2.8" transform="rotate(-28.9 1250.5 193)" fill="#98c898" stroke="#6f9f6f" stroke-width="0.4" /><line x1="1252.5" y1="190.4" x2="1284" y2="173.1" stroke="#c4f0c4" stroke-width="1" /><ellipse cx="1278" cy="177.8" rx="1" ry="2.8" transform="rotate(-28.9 1278 177.8)" fill="#4f7a4f" /><ellipse cx="1252.3" cy="192.1" rx="11.5" ry="16.8" transform="rotate(-17 1252.3 192.1)" fill="#9ad09a" stroke="#78a878" stroke-width="0.4" /><ellipse cx="1250.5" cy="193" rx="11.5" ry="16.8" transform="rotate(-17 1250.5 193)" fill="#5b7b5b" stroke="#86b886" stroke-width="0.6" /><circle cx="1258.6" cy="190.5" r="1.3" fill="#aee0ae"/><circle cx="1257.7" cy="202.1" r="1.3" fill="#aee0ae"/><circle cx="1249.6" cy="204.5" r="1.3" fill="#aee0ae"/><circle cx="1242.4" cy="195.5" r="1.3" fill="#aee0ae"/><circle cx="1243.3" cy="183.9" r="1.3" fill="#aee0ae"/><circle cx="1251.4" cy="181.5" r="1.3" fill="#aee0ae"/><ellipse cx="1390.5" cy="175" rx="1.9" ry="3.1" transform="rotate(-30.1 1390.5 175)" fill="#a4dca4" stroke="#6f9f6f" stroke-width="0.4" /><polygon points="1363.6,194.2 1392.1,177.7 1388.9,172.3 1360.4,188.8" fill="#a4dca4" /><line x1="1363.6" y1="194.2" x2="1392.1" y2="177.7" stroke="#6f9f6f" stroke-width="0.4" /><line x1="1360.4" y1="188.8" x2="1388.9" y2="172.3" stroke="#6f9f6f" stroke-width="0.4" /><ellipse cx="1362" cy="191.5" rx="1.9" ry="3.1" transform="rotate(-30.1 1362 191.5)" fill="#98c898" stroke="#6f9f6f" stroke-width="0.4" /><line x1="1364" y1="188.8" x2="1390.5" y2="173.4" stroke="#c4f0c4" stroke-width="1" /><ellipse cx="1363.8" cy="190.6" rx="12" ry="17.5" transform="rotate(-17 1363.8 190.6)" fill="#9ad09a" stroke="#78a878" stroke-width="0.4" /><ellipse cx="1362" cy="191.5" rx="12" ry="17.5" transform="rotate(-17 1362 191.5)" fill="#5b7b5b" stroke="#86b886" stroke-width="0.6" /><circle cx="1370.5" cy="188.9" r="1.3" fill="#aee0ae"/><circle cx="1369.5" cy="200.9" r="1.3" fill="#aee0ae"/><circle cx="1361.0" cy="203.5" r="1.3" fill="#aee0ae"/><circle cx="1353.5" cy="194.1" r="1.3" fill="#aee0ae"/><circle cx="1354.5" cy="182.1" r="1.3" fill="#aee0ae"/><circle cx="1363.0" cy="179.5" r="1.3" fill="#aee0ae"/><polygon points="1467,162.5 1475.6,158.4 1493.2,168.4 1500.7,180 1500.7,214 1467,196.4" fill="#4f4f4f" stroke="#6a6a6a" stroke-width="0.8" stroke-linejoin="round" /><circle cx="1474" cy="193.5" r="1.3" fill="#e8e8e8"/><circle cx="1492.8" cy="204.5" r="1.3" fill="#e8e8e8"/><polygon points="1554,183 1591,204.6 1591,210 1554,188.5" fill="#5c5c5c" /><polygon points="1591,204.6 1630,181.2 1630,186.5 1591,210" fill="#8e8e8e" /><polygon points="1595,159.6 1630,181.2 1591,204.6 1554,183" fill="#7c7c7c" /><clipPath id="hole14"><ellipse cx="1593.3" cy="180.7" rx="22" ry="12.3"/></clipPath><ellipse cx="1593.3" cy="180.7" rx="22" ry="12.3" transform="rotate(0 1593.3 180.7)" fill="#ffffff" /><ellipse cx="1593.3" cy="176" rx="22" ry="12.3" fill="#5a5a5a" clip-path="url(#hole14)"/><ellipse cx="1593.3" cy="185.5" rx="22.5" ry="12.3" fill="#ffffff" clip-path="url(#hole14)"/><linearGradient id="rg" x1="0" y1="1" x2="1" y2="0"><stop offset="0" stop-color="#6a6a6a"/><stop offset="1" stop-color="#b4b4b4"/></linearGradient><ellipse cx="1708" cy="181" rx="12.9" ry="18.5" transform="rotate(-28.6 1708 181)" fill="#a8a8a8" stroke="#666" stroke-width="0.3" /><polygon points="1705.9,203.2 1716.9,197.2 1699.1,164.8 1688.1,170.8" fill="url(#rg)" /><line x1="1705.9" y1="203.2" x2="1716.9" y2="197.2" stroke="#666" stroke-width="0.3" /><line x1="1688.1" y1="170.8" x2="1699.1" y2="164.8" stroke="#666" stroke-width="0.3" /><ellipse cx="1697" cy="187" rx="12.9" ry="18.5" transform="rotate(-28.6 1697 187)" fill="#575757" stroke="#666" stroke-width="0.3" />
<polygon points="38.1,348.7 81,324.5 97.1,333.4 54.2,358.7" fill="#6cd8d8" stroke="#4aa8aa" stroke-width="0.5" stroke-linejoin="round" /><polygon points="54.2,358.7 97.1,333.4 97.1,334.8 54.2,360" fill="#3e9c9e" /><polygon points="51,348.5 56.5,332.2 68.8,325.7 68.8,316 85.6,309.5 86.5,320 89,328 92.5,332.5 55,352" fill="#4ba8aa" /><polygon points="68.8,321 75.6,317.5 75.6,331 68.8,334.5" fill="#3e9294" /><ellipse cx="82.5" cy="311.5" rx="3.8" ry="5.6" transform="rotate(-32.4 82.5 311.5)" fill="#7aeaea" stroke="#3f9a9c" stroke-width="0.4" /><polygon points="74,323.5 85.5,316.2 79.5,306.8 68,314.1" fill="#7aeaea" /><line x1="74" y1="323.5" x2="85.5" y2="316.2" stroke="#3f9a9c" stroke-width="0.4" /><line x1="68" y1="314.1" x2="79.5" y2="306.8" stroke="#3f9a9c" stroke-width="0.4" /><ellipse cx="71" cy="318.8" rx="3.8" ry="5.6" transform="rotate(-32.4 71 318.8)" fill="#5cc8ca" stroke="#3f9a9c" stroke-width="0.4" /><ellipse cx="71.2" cy="319.2" rx="1.7" ry="2.4" transform="rotate(-32 71.2 319.2)" fill="#d8ffff" stroke="#3f9a9c" stroke-width="0.5" /><polygon points="42,341 43,346 45,345.5 44,340.5" fill="#3e9c9e" /><polygon points="48,344.5 49,349 51,348.5 50,344" fill="#3e9c9e" /><polygon points="57,347 58,351 60,350.5 59,346.5" fill="#3e9c9e" /><polygon points="37,337.6 50.8,329.2 67.2,339.5 52.7,348" fill="#6cd8d8" stroke="#4aa8aa" stroke-width="0.5" stroke-linejoin="round" /><ellipse cx="185" cy="335.5" rx="3.2" ry="7.2" transform="rotate(30.3 185 335.5)" fill="#d8a0a0" stroke="#9a6a6a" stroke-width="0.4" /><polygon points="157.4,327.7 181.4,341.7 188.6,329.3 164.6,315.3" fill="#d8a0a0" /><line x1="157.4" y1="327.7" x2="181.4" y2="341.7" stroke="#9a6a6a" stroke-width="0.4" /><line x1="164.6" y1="315.3" x2="188.6" y2="329.3" stroke="#9a6a6a" stroke-width="0.4" /><ellipse cx="161" cy="321.5" rx="3.2" ry="7.2" transform="rotate(30.3 161 321.5)" fill="#cf9696" stroke="#9a6a6a" stroke-width="0.4" /><ellipse cx="161" cy="321.5" rx="3.2" ry="7.2" transform="rotate(30 161 321.5)" fill="none" stroke="#9a6a6a" stroke-width="0.5" /><ellipse cx="165" cy="323.8" rx="3.2" ry="7.2" transform="rotate(30 165 323.8)" fill="none" stroke="#9a6a6a" stroke-width="0.6" /><ellipse cx="188.3" cy="337" rx="12.8" ry="18" transform="rotate(16 188.3 337)" fill="#dcaaaa" stroke="#a87474" stroke-width="0.4" /><ellipse cx="190" cy="338" rx="12.8" ry="18" transform="rotate(16 190 338)" fill="#c48e8e" stroke="#a87474" stroke-width="0.5" /><circle cx="195.9" cy="346.4" r="1.3" fill="#e8c4c4"/><circle cx="186.5" cy="350.5" r="1.3" fill="#e8c4c4"/><circle cx="180.5" cy="342.1" r="1.3" fill="#e8c4c4"/><circle cx="184.1" cy="329.6" r="1.3" fill="#e8c4c4"/><circle cx="193.5" cy="325.5" r="1.3" fill="#e8c4c4"/><circle cx="199.5" cy="333.9" r="1.3" fill="#e8c4c4"/><polygon points="263.5,312.2 284.5,299.8 307,312.2 284.5,324.2" fill="#dcdaa6" /><polygon points="263.5,312.2 284.5,324.2 284.5,359.7 263.5,347.7" fill="#6b6a50" /><polygon points="284.5,324.2 307,312.2 307,347.7 284.5,359.7" fill="#9d9b76" /><polygon points="263.5,312.2 284.5,299.8 307,312.2 307,347.7 284.5,359.7 263.5,347.7" fill="none" stroke="#55543e" stroke-width="0.5" stroke-linejoin="round" /><polygon points="373.4,312.3 388.8,305.4 411,320.7 398.7,326 398.7,346 373.4,332.2" fill="#d8d8e2" stroke="#8a8a98" stroke-width="0.5" stroke-linejoin="round" /><polygon points="373.4,312.3 388.8,305.4 411,320.7 396,327.5" fill="#eaeaf0" /><polygon points="376,315.5 378.5,313.5 401,327.5 398.7,330" fill="#ffffff" /><line x1="375.5" y1="318.5" x2="398.7" y2="332" stroke="#9a9aa8" stroke-width="0.6" /><line x1="373.4" y1="312.3" x2="396" y2="327.5" stroke="#9a9aa8" stroke-width="0.5" /><polygon points="398.7,326 411,320.7 422.5,326.8 422.5,339.8 409.4,349 398.7,346" fill="#0e0e12" /><polygon points="409.4,331 422.5,326.8 422.5,339.8 409.4,349" fill="#1c1a26" /><polygon points="404.8,347.5 409.4,349 415.6,346.5 415.6,353.5 410,355.5 404.8,353" fill="#c6c6e2" /><polygon points="371,312.5 374.5,311 375.5,315 372,316.5" fill="#a0a0aa" /><circle cx="391" cy="307.7" r="1.3" fill="#b8b8c8"/><circle cx="377" cy="332" r="1.3" fill="#b8b8c8"/><polygon points="465,349.5 540.5,305.5 542,306.5 542,311 466.5,355 465,354" fill="#0a0a7a" /><polygon points="466,352 541.5,308 541.8,309 466.3,353" fill="#1e1ea6" /><polygon points="588,347.5 614,332 636,346 610.7,360.2" fill="#6cd8d8" stroke="#4aa8aa" stroke-width="0.5" stroke-linejoin="round" /><polygon points="588,347.5 610.7,360.2 610.7,361.3 588,348.6" fill="#3e9c9e" /><polygon points="595.7,325 606.8,326 606.8,354.8 595.7,350.2" fill="#3a9092" /><polygon points="606.8,326 619.8,316 619.8,331 621,336 626.7,342.5 626.7,343.3 606.8,354.8" fill="#4aa8aa" /><ellipse cx="615.5" cy="315.5" rx="5.4" ry="6.8" transform="rotate(-30 615.5 315.5)" fill="#7cf0f0" stroke="#3f9a9c" stroke-width="0.4" /><polygon points="603.3,330.4 618.9,321.4 612.1,309.6 596.5,318.6" fill="#7cf0f0" /><line x1="603.3" y1="330.4" x2="618.9" y2="321.4" stroke="#3f9a9c" stroke-width="0.4" /><line x1="596.5" y1="318.6" x2="612.1" y2="309.6" stroke="#3f9a9c" stroke-width="0.4" /><ellipse cx="599.9" cy="324.5" rx="5.4" ry="6.8" transform="rotate(-30 599.9 324.5)" fill="#5ec8ca" stroke="#3f9a9c" stroke-width="0.4" /><ellipse cx="599.4" cy="324.9" rx="2.6" ry="3.2" transform="rotate(-30 599.4 324.9)" fill="#8af2f2" stroke="#3a8e90" stroke-width="0.8" /><line x1="683.5" y1="311.5" x2="746.5" y2="347.5" stroke="#3e3e98" stroke-width="2.6" /><line x1="690" y1="307.5" x2="753" y2="343.5" stroke="#3e3e98" stroke-width="2.6" /><line x1="687" y1="314.5" x2="749.5" y2="350.5" stroke="#34348a" stroke-width="1.2" /><line x1="690.5" y1="307.2" x2="683" y2="311.7" stroke="#3e3e98" stroke-width="2.6" /><line x1="753.5" y1="343.3" x2="746" y2="347.7" stroke="#3e3e98" stroke-width="2.6" /><line x1="702" y1="317.5" x2="708" y2="314" stroke="#3e3e98" stroke-width="2.2" /><line x1="722.5" y1="329.5" x2="728.5" y2="326" stroke="#3e3e98" stroke-width="2.2" /><line x1="734" y1="336" x2="740" y2="332.5" stroke="#3e3e98" stroke-width="2.2" /><polygon points="699,317 708,312.5 712,315.5 703,320" fill="#5656b8" />
<use href="#sw" x="92" y="197"/><use href="#sw" x="201" y="197"/><use href="#sw" x="310" y="197"/><use href="#sw" x="419" y="197"/><use href="#sw" x="528" y="197"/><use href="#sw" x="637" y="197"/><use href="#sw" x="746" y="197"/><use href="#sw" x="855" y="197"/><use href="#sw" x="964" y="197"/><use href="#sw" x="1073" y="197"/><use href="#sw" x="1182" y="197"/><use href="#sw" x="1291" y="197"/><use href="#sw" x="1400" y="197"/><use href="#sw" x="1509" y="197"/><use href="#sw" x="1618" y="197"/><use href="#sw" x="1727" y="197"/><use href="#sw" x="92" y="343"/><use href="#sw" x="201" y="343"/><use href="#sw" x="310" y="343"/><use href="#sw" x="419" y="343"/><use href="#sw" x="528" y="343"/><use href="#sw" x="637" y="343"/><use href="#sw" x="746" y="343"/>
<linearGradient id="pg" x1="0" y1="0" x2="1" y2="1"><stop offset="0" stop-color="#f8f8f8"/><stop offset="1" stop-color="#efeff0"/></linearGradient><polygon points="36,442.5 80.5,442.5 98.5,460.5 98.5,525.5 36,525.5" fill="url(#pg)" stroke="#cfcfcf" stroke-width="1" stroke-linejoin="round" /><polygon points="80.5,442.5 80.5,460.5 98.5,460.5" fill="#dadada" stroke="#cfcfcf" stroke-width="0.8" stroke-linejoin="round" />
<linearGradient id="fg" x1="0" y1="0" x2="1" y2="0"><stop offset="0" stop-color="#f7d87a"/><stop offset="0.5" stop-color="#fde49a"/><stop offset="1" stop-color="#f6d677"/></linearGradient><polygon points="36,612 85,612 85,621 36,621" fill="#f3d06a" /><polygon points="48,616.5 96.5,623 96.5,688.5 81,687.5" fill="#ffffff" stroke="#e4e4e4" stroke-width="0.6" stroke-linejoin="round" /><polygon points="41,616.5 79.5,630 79.5,694.5 53,686" fill="#ffffff" stroke="#d8d8d8" stroke-width="0.6" stroke-linejoin="round" /><polygon points="79.5,633 81,632 81,690 79.5,694" fill="#e8e8e8" /><polygon points="54,652.3 70,643 76.5,650.5 54,667" fill="#a4a4a4" /><polygon points="54,655.5 71,646 72,648 54,658" fill="#dadada" /><polygon points="54,661 73.5,650 74.5,652 54,663.5" fill="#d0d0d0" /><line x1="54" y1="654.5" x2="71" y2="645" stroke="#b89a80" stroke-width="0.5" /><line x1="54" y1="664.5" x2="74" y2="653" stroke="#b89a80" stroke-width="0.5" /><polygon points="69,641.5 71.5,639.8 75,643 76.5,654 74,655.5 70,652" fill="#1e5048" /><polygon points="74,648 79.5,652 79.5,654 75.5,653" fill="#b0b0b0" /><line x1="80" y1="648" x2="96" y2="637.5" stroke="#a8a8a8" stroke-width="1" /><polygon points="36,612 53.5,627 53.5,693.5 36,682" fill="url(#fg)" /><polygon points="145,612 194,612 194,621 145,621" fill="#f3d06a" /><polygon points="157,616.5 205.5,623 205.5,688.5 190,687.5" fill="#ffffff" stroke="#e4e4e4" stroke-width="0.6" stroke-linejoin="round" /><polygon points="150,616.5 188.5,630 188.5,694.5 162,686" fill="#ffffff" stroke="#d8d8d8" stroke-width="0.6" stroke-linejoin="round" /><polygon points="188.5,633 190,632 190,690 188.5,694" fill="#e8e8e8" /><polygon points="188.5,646 205.5,634.5 205.5,641.5 188.5,652.5" fill="#727272" /><polygon points="188.5,649 205.5,638 205.5,639 188.5,650" fill="#a8a8a8" /><polygon points="188.5,652.5 205.5,641.5 205.5,643.5 188.5,654.5" fill="#d8d8d8" /><line x1="188.5" y1="654.8" x2="205.5" y2="643.8" stroke="#555" stroke-width="0.6" /><polygon points="145,612 162.5,627 162.5,693.5 145,682" fill="url(#fg)" />
<rect x="1597.5" y="639.5" width="130" height="25" fill="#ffffff" stroke="#a9c6ea" stroke-width="1"/><linearGradient id="sg" x1="0" y1="0" x2="0" y2="1"><stop offset="0" stop-color="#f46a36"/><stop offset="1" stop-color="#e84310"/></linearGradient><g transform="rotate(-15 1598.6 649.8)"><rect x="1585.6" y="636.8" width="26" height="26" rx="4" fill="url(#sg)"/><path d="M1589 651 C1588 643 1596 641 1602 641 L1609.5 641 L1609.5 645.5 C1604 645 1597 645 1595.5 646.6 C1597 648 1606 647.5 1608.5 651 C1611 656 1603 659.5 1596 659.5 L1589.5 659.5 L1589.5 655 C1595 655.5 1601 655 1602.5 653.3 C1600 651.8 1590 653.5 1589 651 Z" fill="#ffffff"/></g><g fill="none" stroke="#1a6fd6" stroke-width="1.7"><rect x="1622" y="648" width="12" height="6.6" rx="1.2"/><line x1="1628" y1="645" x2="1628" y2="658.8"/><circle cx="1649.6" cy="649.6" r="1.4" stroke-width="1.4"/></g><circle cx="1656.3" cy="652.4" r="1.7" fill="#1a6fd6"/><path d="M1657.6 652.6 Q1657.8 656 1654.3 657.9" fill="none" stroke="#1a6fd6" stroke-width="1.4"/><rect x="1673.4" y="644" width="5.3" height="9.6" rx="2.65" fill="#1a6fd6"/><path d="M1670.9 651.3 q0 5 5.1 5 q5.1 0 5.1 -5" fill="none" stroke="#1a6fd6" stroke-width="1.4"/><line x1="1676" y1="656.3" x2="1676" y2="658.5" stroke="#1a6fd6" stroke-width="1.3"/><line x1="1674" y1="659.6" x2="1678.4" y2="659.6" stroke="#1a6fd6" stroke-width="1.4"/><rect x="1693.75" y="646.75" width="13.5" height="10.5" rx="1.4" fill="none" stroke="#1a6fd6" stroke-width="1.5"/><rect x="1695" y="648" width="2" height="2" fill="#1a6fd6"/><rect x="1698" y="648" width="2" height="2" fill="#1a6fd6"/><rect x="1701" y="648" width="2" height="2" fill="#1a6fd6"/><rect x="1704" y="648" width="2" height="2" fill="#1a6fd6"/><rect x="1695" y="651" width="2" height="2" fill="#1a6fd6"/><rect x="1698" y="651" width="2" height="2" fill="#1a6fd6"/><rect x="1701" y="651" width="2" height="2" fill="#1a6fd6"/><rect x="1704" y="651" width="2" height="2" fill="#1a6fd6"/><rect x="1695" y="654" width="2" height="2" fill="#1a6fd6"/><rect x="1698" y="654" width="8" height="2" fill="#1a6fd6"/></svg>
</body></html>
